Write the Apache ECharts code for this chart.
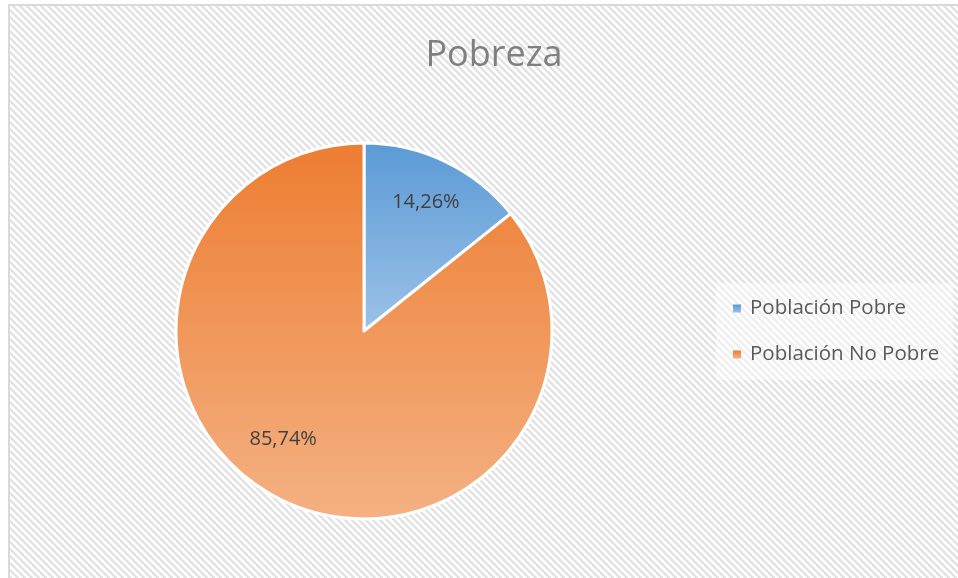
<!DOCTYPE html>
<html>
<head>
<meta charset="utf-8">
<script src="https://cdn.jsdelivr.net/npm/echarts@6/dist/echarts.min.js"></script>
<style>
  html, body { margin: 0; padding: 0; background: #fff; }
  #chart { width: 958px; height: 578px; }
</style>
</head>
<body>
<div id="chart"></div>
<script>
// datos
const categories = ['Población Pobre', 'Población No Pobre']
const values = [14.26, 85.74]
const labelTexts = ['14,26%', '85,74%']

// patrón de rayas diagonales del fondo
const makeHatch = () => {
  const c = document.createElement('canvas')
  const s = 7
  c.width = s
  c.height = s
  const ctx = c.getContext('2d')
  ctx.fillStyle = '#ffffff'
  ctx.fillRect(0, 0, s, s)
  ctx.strokeStyle = '#e2e2e2'
  ctx.lineWidth = 2.4
  ctx.beginPath()
  ctx.moveTo(-s, 0); ctx.lineTo(s * 2, s * 3)
  ctx.moveTo(-s, -s); ctx.lineTo(s * 2, s * 2)
  ctx.moveTo(0, -s); ctx.lineTo(s * 2, s)
  ctx.stroke()
  return c
}

const grad = (top, bottom) => ({
  type: 'linear', x: 0, y: 0, x2: 0, y2: 1,
  colorStops: [{ offset: 0, color: top }, { offset: 1, color: bottom }]
})

const colors = [grad('#5a9ad5', '#9dc2e8'), grad('#ed7d31', '#f4b183')]

const center = [364, 331]
const radius = 188

const myChart = echarts.init(document.getElementById('chart'))
const option = {
  animation: false,
  graphic: [
    {
      type: 'rect',
      z: -10,
      shape: { x: 9, y: 5, width: 970, height: 590 },
      style: {
        fill: { image: makeHatch(), repeat: 'repeat' },
        stroke: '#d9d9d9',
        lineWidth: 2
      }
    }
  ],
  title: {
    text: 'Pobreza',
    left: 489,
    top: 33,
    textAlign: 'center',
    textStyle: {
      fontFamily: 'Open Sans',
      fontSize: 36,
      fontWeight: 'normal',
      color: '#7f7f7f'
    }
  },
  legend: {
    orient: 'vertical',
    left: 716,
    top: 283,
    padding: [15, 14, 15, 17],
    backgroundColor: 'rgba(255,255,255,0.45)',
    icon: 'rect',
    itemWidth: 8,
    itemHeight: 8,
    itemGap: 25,
    itemStyle: { borderWidth: 0 },
    data: categories,
    textStyle: {
      fontFamily: 'Open Sans',
      fontSize: 20.5,
      lineHeight: 20,
      color: '#595959',
      padding: [0, 0, 0, 4]
    }
  },
  series: [
    {
      type: 'pie',
      center: center,
      radius: radius,
      startAngle: 90,
      clockwise: true,
      silent: true,
      itemStyle: { borderColor: '#ffffff', borderWidth: 3 },
      label: {
        position: 'inside',
        formatter: (p) => labelTexts[p.dataIndex],
        fontFamily: 'Open Sans',
        fontSize: 20,
        color: '#404040'
      },
      labelLayout: (p) => {
        // mover la etiqueta hacia fuera a lo largo del radio
        const r = p.labelRect
        const cx = r.x + r.width / 2
        const cy = r.y + r.height / 2
        const dx = cx - center[0]
        const dy = cy - center[1]
        let ang = Math.atan2(dy, dx)
        let dist = radius * 0.76
        if (p.dataIndex === 1) { ang += 11 * Math.PI / 180; dist = radius * 0.72 }
        return {
          x: center[0] + Math.cos(ang) * dist,
          y: center[1] + Math.sin(ang) * dist,
          align: 'center',
          verticalAlign: 'middle'
        }
      },
      data: categories.map((name, i) => ({
        name: name,
        value: values[i],
        itemStyle: { color: colors[i] }
      }))
    }
  ]
}
myChart.setOption(option)
window.addEventListener('resize', () => {
  myChart?.resize()
})
</script>
</body>
</html>
